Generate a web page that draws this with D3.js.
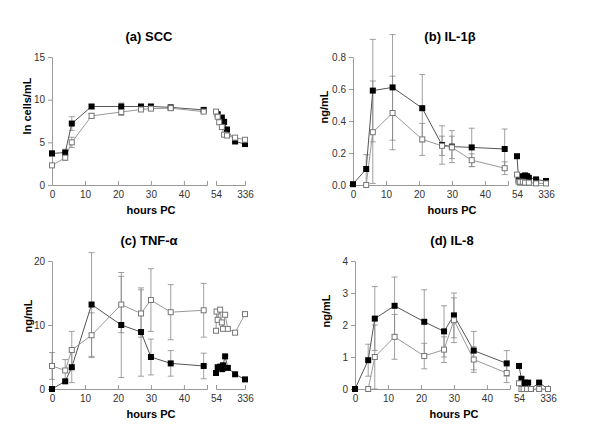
<!DOCTYPE html>
<html>
<head>
<meta charset="utf-8">
<script src="https://cdn.jsdelivr.net/npm/d3@7"></script>
<style>
  body { margin: 0; background: #fff; }
  svg { font-family: Arial, "Liberation Sans", sans-serif; }
  .tick text { font-size: 10px; fill: #333; }
  .title { font-size: 13px; font-weight: bold; }
  .axlabel { font-size: 11px; font-weight: bold; }
</style>
</head>
<body>
<div id="chart"></div>
<script>
// sampling times (hours post challenge), first part of the x axis
const mainHours = [0, 4, 6, 12, 21, 27, 30, 36, 46];

// (a) SCC
const aFilled = [3.7, 3.8, 7.2, 9.2, 9.2, 9.2, 9.2, 9.1, 8.8];
const aFilledErr = [0.3, 0.4, 0.8, 0.2, 0.4, 0.2, 0.2, 0.2, 0.2];
const aOpen = [2.3, 3.2, 5.0, 8.1, 8.55, 8.85, 8.95, 9.0, 8.6];
const aOpenErr = [0.2, 0.3, 0.6, 0.3, 0.4, 0.2, 0.2, 0.2, 0.2];
const aLateFilledHours = [60, 78, 90, 108, 180, 336];
const aLateFilled = [8.3, 7.9, 7.4, 6.5, 5.1, 4.8];
const aLateOpenHours = [54, 60, 66, 78, 90, 108, 180, 336];
const aLateOpen = [8.6, 8.0, 7.35, 6.8, 5.9, 5.8, 5.55, 5.3];

// (b) IL-1beta
const bFilled = [0.005, 0.10, 0.59, 0.61, 0.48, 0.25, 0.24, 0.235, 0.225];
const bFilledErr = [0, 0.09, 0.32, 0.33, 0.21, 0.12, 0.10, 0.12, 0.125];
const bOpen = [null, 0.0, 0.33, 0.45, 0.285, 0.245, 0.235, 0.155, 0.105];
const bOpenErr = [0, 0, 0.32, 0.23, 0.10, 0.06, 0.07, 0.04, 0.04];
const bLateFilledHours = [54, 60, 66, 78, 90, 102, 114, 180, 336];
const bLateFilled = [0.18, 0.03, 0.04, 0.055, 0.06, 0.055, 0.045, 0.035, 0.025];
const bLateOpenHours = [54, 60, 66, 78, 90, 114, 180, 336];
const bLateOpen = [0.065, 0.02, 0.02, 0.02, 0.015, 0.015, 0.01, 0.01];

// (c) TNF-alpha
const cFilled = [0, 1.2, 3.4, 13.2, 10.0, 8.9, 5.0, 4.0, 3.6];
const cFilledErr = [0, 0, 2.4, 8.1, 8.2, 6.9, 2.8, 2.0, 2.0];
const cOpen = [3.6, 2.9, 6.1, 8.4, 13.2, 11.8, 13.9, 12.0, 12.3];
const cOpenErr = [2.1, 1.7, 2.9, 3.5, 4.4, 3.7, 4.9, 4.3, 4.2];
const cLateFilledHours = [54, 60, 70, 80, 84, 96, 114, 180, 336];
const cLateFilled = [2.5, 3.4, 3.5, 3.1, 3.7, 5.1, 3.3, 2.3, 1.5];
const cLateOpenHours = [54, 56, 60, 70, 78, 84, 96, 114, 180, 336];
const cLateOpen = [9.1, 12.1, 10.8, 12.4, 10.4, 9.4, 11.6, 9.4, 8.8, 11.7];

// (d) IL-8
const dFilled = [0, 0.9, 2.2, 2.6, 2.1, 1.8, 2.3, 1.2, 0.8];
const dFilledErr = [0, 0.5, 1.0, 0.9, 1.0, 0.8, 0.7, 0.6, 0.4];
const dOpen = [null, 0, 1.0, 1.63, 1.03, 1.23, 2.15, 0.92, 0.5];
const dOpenErr = [0, 0, 1.0, 0.7, 0.4, 0.4, 0.7, 0.4, 0.3];
const dLateFilledHours = [54, 63, 66, 72, 78, 90, 96, 114, 192, 336];
const dLateFilled = [0.72, 0.32, 0.15, 0.0, 0.2, 0.0, 0.2, 0.0, 0.2, 0.0];
const dLateOpenHours = [54, 63, 72, 90, 114, 192, 336];
const dLateOpen = [0.18, 0, 0, 0, 0, 0, 0];

const mainTicks = [0, 10, 20, 30, 40];
const lateTicks = [54, 336];

const panels = [
  { title: "(a) SCC", ylabel: "ln cells/mL", yMax: 15, yTicks: [0, 5, 10, 15], fmt: d3.format("d"),
    dx: 0, dy: 0, filled: aFilled, filledErr: aFilledErr, open: aOpen, openErr: aOpenErr,
    lateFH: aLateFilledHours, lateF: aLateFilled, lateOH: aLateOpenHours, lateO: aLateOpen, ylx: 31, yly: 106 },
  { title: "(b) IL-1β", ylabel: "ng/mL", yMax: 0.8, yTicks: [0, 0.2, 0.4, 0.6, 0.8], fmt: d3.format(".1f"),
    dx: 301, dy: 0, filled: bFilled, filledErr: bFilledErr, open: bOpen, openErr: bOpenErr,
    lateFH: bLateFilledHours, lateF: bLateFilled, lateOH: bLateOpenHours, lateO: bLateOpen, ylx: 328, yly: 107 },
  { title: "(c) TNF-α", ylabel: "ng/mL", yMax: 20, yTicks: [0, 10, 20], fmt: d3.format("d"),
    dx: 0, dy: 204, filled: cFilled, filledErr: cFilledErr, open: cOpen, openErr: cOpenErr,
    lateFH: cLateFilledHours, lateF: cLateFilled, lateOH: cLateOpenHours, lateO: cLateOpen, ylx: 32, yly: 316 },
  { title: "(d) IL-8", ylabel: "ng/mL", yMax: 4, yTicks: [0, 1, 2, 3, 4], fmt: d3.format("d"),
    dx: 303, dy: 204, filled: dFilled, filledErr: dFilledErr, open: dOpen, openErr: dOpenErr,
    lateFH: dLateFilledHours, lateF: dLateFilled, lateOH: dLateOpenHours, lateO: dLateOpen, ylx: 330, yly: 311 }
];

const width = 600, height = 444;
const svg = d3.select("#chart").append("svg")
  .attr("width", width).attr("height", height);
svg.append("rect").attr("width", width).attr("height", height).attr("fill", "#fff");

const axisColor = "#999";
const markerSize = 6;

function styleAxis(g) {
  g.select(".domain").attr("stroke", axisColor);
  g.selectAll(".tick line").attr("stroke", axisColor);
}

panels.forEach(p => {
  const left = 52 + p.dx;
  const y0 = 185 + p.dy;
  const x = d3.scaleLinear().domain([0, 47]).range([left, left + 155]);
  const xLate = d3.scaleLog().domain([54, 336]).range([left + 164, left + 193]);
  const y = d3.scaleLinear().domain([0, p.yMax]).range([y0, y0 - 128]);

  const g = svg.append("g");

  // axes
  g.append("g").attr("transform", `translate(0,${y0})`)
    .call(d3.axisBottom(x).tickValues(mainTicks).tickSizeInner(-4).tickSizeOuter(-4).tickPadding(6))
    .call(styleAxis);
  g.append("g").attr("transform", `translate(0,${y0})`)
    .call(d3.axisBottom(xLate).tickValues(lateTicks).tickFormat(d3.format("d"))
      .tickSizeInner(-4).tickSizeOuter(-4).tickPadding(6))
    .call(styleAxis);
  g.append("g").attr("transform", `translate(${left},0)`)
    .call(d3.axisLeft(y).tickValues(p.yTicks).tickFormat(p.fmt).tickSizeInner(4).tickSizeOuter(0).tickPadding(3))
    .call(styleAxis);

  // labels
  g.append("text").attr("class", "title")
    .attr("x", left + 97).attr("y", 41 + p.dy)
    .attr("text-anchor", "middle").text(p.title);
  g.append("text").attr("class", "axlabel")
    .attr("x", left + 99).attr("y", 214 + p.dy)
    .attr("text-anchor", "middle").text("hours PC");
  g.append("text").attr("class", "axlabel")
    .attr("transform", `translate(${p.ylx},${p.yly}) rotate(-90)`)
    .attr("text-anchor", "middle").text(p.ylabel);

  const mainF = mainHours.map((h, i) => ({ px: x(h), v: p.filled[i], e: p.filledErr[i] }));
  const mainO = mainHours.map((h, i) => ({ px: x(h), v: p.open[i], e: p.openErr[i] }));
  const lateF = p.lateFH.map((h, i) => ({ px: xLate(h), v: p.lateF[i], e: 0 }));
  const lateO = p.lateOH.map((h, i) => ({ px: xLate(h), v: p.lateO[i], e: 0 }));

  // error bars
  const errs = mainF.concat(mainO).filter(d => d.v != null && d.e > 0);
  const eb = g.append("g").attr("stroke", "#888").attr("stroke-width", 0.8).attr("fill", "none");
  eb.selectAll("path").data(errs).join("path")
    .attr("d", d => {
      const top = y(d.v + d.e), bot = y(Math.max(d.v - d.e, 0));
      return `M${d.px},${top}V${bot}M${d.px - 3},${top}H${d.px + 3}M${d.px - 3},${bot}H${d.px + 3}`;
    });

  const line = d3.line().defined(d => d.v != null).x(d => d.px).y(d => y(d.v));
  [[mainF, "#555"], [lateF, "#555"], [mainO, "#999"], [lateO, "#999"]].forEach(([data, col]) => {
    g.append("path").datum(data).attr("d", line)
      .attr("fill", "none").attr("stroke", col).attr("stroke-width", 1);
  });

  // markers: filled first, open squares drawn on top
  g.append("g").selectAll("rect").data(mainF.concat(lateF).filter(d => d.v != null)).join("rect")
    .attr("x", d => d.px - markerSize / 2).attr("y", d => y(d.v) - markerSize / 2)
    .attr("width", markerSize).attr("height", markerSize)
    .attr("fill", "#000");
  g.append("g").selectAll("rect").data(mainO.concat(lateO).filter(d => d.v != null)).join("rect")
    .attr("x", d => d.px - markerSize / 2 + 0.5).attr("y", d => y(d.v) - markerSize / 2 + 0.5)
    .attr("width", markerSize - 1).attr("height", markerSize - 1)
    .attr("fill", "#fff").attr("stroke", "#777").attr("stroke-width", 1);
});
</script>
</body>
</html>
